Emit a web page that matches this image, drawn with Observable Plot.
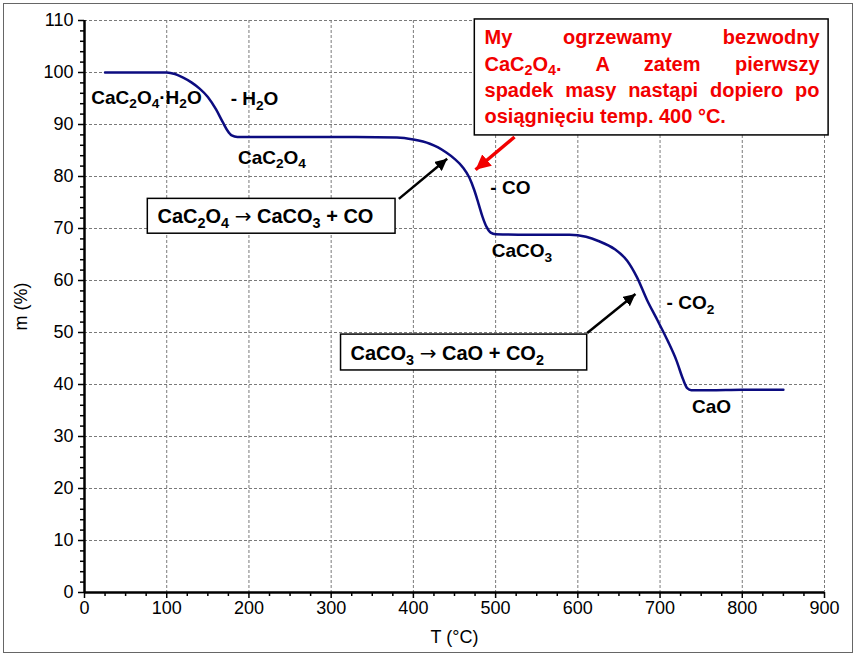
<!DOCTYPE html>
<html><head><meta charset="utf-8">
<script src="https://cdn.jsdelivr.net/npm/d3@7"></script>
<script src="https://cdn.jsdelivr.net/npm/@observablehq/plot@0.6"></script>
<style>
body{margin:0;background:#fff;}
#wrap{position:relative;width:856px;height:656px;overflow:hidden;}
#wrap svg{position:absolute;left:0;top:0;}
#border{position:absolute;left:3px;top:3px;width:848px;height:648px;border:1.5px solid #666;pointer-events:none;}
</style></head><body><div id="wrap"><div id="border"></div></div>
<script>
// ---- curve (TG: temperature °C, mass %) ----
const tempC = [25, 60, 100, 110, 120, 130, 140, 150, 160, 168, 174, 179, 186, 250, 330, 380, 400, 420, 430, 440, 450, 460, 468, 474, 479, 484, 489, 494, 500, 540, 590, 610, 625, 645, 660, 672, 684, 697, 709, 720, 728, 733, 738, 760, 800, 850];
const massPct = [100, 100, 100, 99.7, 99.0, 98.1, 96.9, 95.3, 92.9, 90.5, 88.8, 87.9, 87.6, 87.6, 87.6, 87.5, 87.1, 86.3, 85.6, 84.6, 83.4, 81.8, 79.8, 77.4, 74.9, 72.3, 70.3, 69.2, 68.9, 68.8, 68.8, 68.4, 67.6, 66, 63.8, 60.6, 56.3, 52.3, 48.5, 44.6, 41, 39.3, 38.9, 38.9, 39, 39];

// ---- ticks ----
const xMajor = [0, 100, 200, 300, 400, 500, 600, 700, 800, 900];
const xMinor = [25, 50, 75, 125, 150, 175, 225, 250, 275, 325, 350, 375, 425, 450, 475, 525, 550, 575, 625, 650, 675, 725, 750, 775, 825, 850, 875];
const yMajor = [0, 10, 20, 30, 40, 50, 60, 70, 80, 90, 100, 110];
const yMinor = [2,4,6,8,12,14,16,18,22,24,26,28,32,34,36,38,42,44,46,48,52,54,56,58,62,64,66,68,72,74,76,78,82,84,86,88,92,94,96,98,102,104,106,108];

// ---- black labels (anchored at centre) ----
const labelText = ["CaC2O4·H2O", "- H2O", "CaC2O4", "- CO", "CaCO3", "- CO2", "CaO"];
const labelT = [75.4, 206.8, 228, 518, 532, 737, 762.6];
const labelM = [95.2, 94.9, 83.6, 77.9, 65.6, 55.6, 35.6];

// ---- boxes ----
const boxT1 = [77, 312, 474.7];
const boxT2 = [378.3, 611.4, 905];
const boxM1 = [69, 42.7, 87.9];
const boxM2 = [75.7, 49.6, 110.2];
const boxText = ["CaC2O4 → CaCO3 + CO", "CaCO3 → CaO + CO2"];
const boxTextT = [88.8, 323.5];
const boxTextM = [72.2, 46.0];

// ---- red note ----
const noteLines = ["My ogrzewamy bezwodny", "CaC2O4. A zatem pierwszy", "spadek masy nastąpi dopiero po", "osiągnięciu temp. 400 °C."];
const noteT = [486.5, 486.5, 486.5, 486.5];
const noteM = [106.7, 101.6, 96.6, 91.6];

// ---- arrows ----
const arrowT1 = [382.3, 611.4];
const arrowM1 = [75.7, 49.9];
const arrowT2 = [441.1, 670.1];
const arrowM2 = [83.4, 57.4];
const redArrowT1 = [523], redArrowM1 = [87.6], redArrowT2 = [475.6], redArrowM2 = [81.3];

const RED = "#f20000";
const BOLD = "'Liberation Sans', Arial, sans-serif";
const TICKFONT = "'Liberation Sans', Arial, sans-serif";

const curve = tempC.map((t, i) => ({T: t, m: massPct[i]}));
const labels = labelText.map((s, i) => ({s, T: labelT[i], m: labelM[i]}));
const boxes = boxT1.map((t, i) => ({x1: t, x2: boxT2[i], y1: boxM1[i], y2: boxM2[i]}));
const boxLabels = boxText.map((s, i) => ({s, T: boxTextT[i], m: boxTextM[i]}));
const notes = noteLines.map((s, i) => ({s, T: noteT[i], m: noteM[i]}));
const arrows = arrowT1.map((t, i) => ({x1: t, y1: arrowM1[i], x2: arrowT2[i], y2: arrowM2[i]}));
const redArrows = redArrowT1.map((t, i) => ({x1: t, y1: redArrowM1[i], x2: redArrowT2[i], y2: redArrowM2[i]}));

const svg = Plot.plot({
  width: 856, height: 656,
  marginLeft: 84, marginRight: 32, marginTop: 20, marginBottom: 64,
  style: {fontFamily: TICKFONT, fontSize: "18px", color: "#000", background: "transparent", overflow: "visible"},
  x: {domain: [0, 900]},
  y: {domain: [0, 110]},
  marks: [
    Plot.gridX(xMajor.filter(d => d > 0), {stroke: "#7a7a7a", strokeOpacity: 1, strokeWidth: 1, strokeDasharray: "3,2"}),
    Plot.gridY(yMajor.filter(d => d > 0), {stroke: "#7a7a7a", strokeOpacity: 1, strokeWidth: 1, strokeDasharray: "3,2"}),
    Plot.line(curve, {x: "T", y: "m", stroke: "#0c0c80", strokeWidth: 2.5, curve: "monotone-x"}),
    Plot.rect(boxes, {x1: "x1", x2: "x2", y1: "y1", y2: "y2", fill: "white", stroke: "black", strokeWidth: 1.5}),
    Plot.axisX(xMinor, {tickSize: 4, text: null, label: null, strokeWidth: 1.5}),
    Plot.axisY(yMinor, {tickSize: 4, text: null, label: null, strokeWidth: 1.5}),
    Plot.axisX(xMajor, {tickSize: 6, tickPadding: 3, fontSize: 18, fontFamily: TICKFONT, strokeWidth: 1.5, label: "T (°C)", labelAnchor: "center", labelOffset: 50, labelArrow: "none"}),
    Plot.axisY(yMajor, {tickSize: 6, tickPadding: 5, fontSize: 18, fontFamily: TICKFONT, strokeWidth: 1.5, label: "m (%)", labelAnchor: "center", labelOffset: 70, labelArrow: "none"}),
    Plot.ruleX([0], {strokeWidth: 2.5}),
    Plot.ruleY([0], {strokeWidth: 2.5}),
    Plot.text(labels, {x: "T", y: "m", text: "s", fontSize: 19, fontWeight: "bold", fontFamily: BOLD, fill: "black"}),
    Plot.text(boxLabels, {x: "T", y: "m", text: "s", fontSize: 20, fontWeight: "bold", fontFamily: BOLD, fill: "black", textAnchor: "start"}),
    Plot.text(notes, {x: "T", y: "m", text: "s", fontSize: 20, fontWeight: "bold", fontFamily: BOLD, fill: RED, textAnchor: "start"}),
    Plot.link(arrows, {x1: "x1", y1: "y1", x2: "x2", y2: "y2", stroke: "black", strokeWidth: 2.5}),
    Plot.link(redArrows, {x1: "x1", y1: "y1", x2: "x2", y2: "y2", stroke: RED, strokeWidth: 3.5})
  ]
});
document.getElementById("wrap").prepend(svg);

const S = d3.select(svg);
const NS = "http://www.w3.org/2000/svg";
// chemical subscripts and thin reaction arrow
S.selectAll('g[aria-label="text"] text').each(function() {
  const el = this;
  const s = el.textContent;
  const fs = parseFloat(el.parentNode.getAttribute("font-size")) || 19;
  const parts = s.split(/((?<=[A-Za-z])\d+|→)/);
  if (parts.length === 1) return;
  el.textContent = "";
  let shifted = false;
  parts.forEach((p, i) => {
    if (!p) return;
    const t = document.createElementNS(NS, "tspan");
    t.textContent = p;
    if (i % 2 === 1 && p !== "→") {
      t.setAttribute("font-size", 0.72 * fs); t.setAttribute("dy", 0.24 * fs); shifted = true;
    } else {
      if (shifted) { t.setAttribute("dy", -0.24 * fs); shifted = false; }
      if (p === "→") { t.setAttribute("font-family", "'DejaVu Sans', sans-serif"); t.setAttribute("font-weight", "normal"); }
    }
    el.appendChild(t);
  });
});
// justify red note lines
S.selectAll('g[aria-label="text"]').filter(function() { return this.getAttribute("fill") === RED; })
  .selectAll("text").each(function(d, i) {
    if (i >= 3) return;
    const len = this.getComputedTextLength();
    const n = (this.textContent.match(/ /g) || []).length;
    if (n) this.style.wordSpacing = ((335 - len) / n) + "px";
  });
// filled arrowheads
const defs = S.append("defs");
function mk(id, color, w) {
  defs.append("marker").attr("id", id).attr("viewBox", "0 0 10 10").attr("refX", 10).attr("refY", 5)
    .attr("markerWidth", w).attr("markerHeight", w).attr("markerUnits", "userSpaceOnUse").attr("orient", "auto")
    .append("path").attr("d", "M0,0L10,5L0,10Z").attr("fill", color);
}
mk("ahk", "black", 12);
mk("ahr", RED, 15);
S.selectAll('g[aria-label="link"]').each(function() {
  const c = this.getAttribute("stroke");
  d3.select(this).selectAll("path").attr("marker-end", c === RED ? "url(#ahr)" : "url(#ahk)");
});
</script></body></html>
